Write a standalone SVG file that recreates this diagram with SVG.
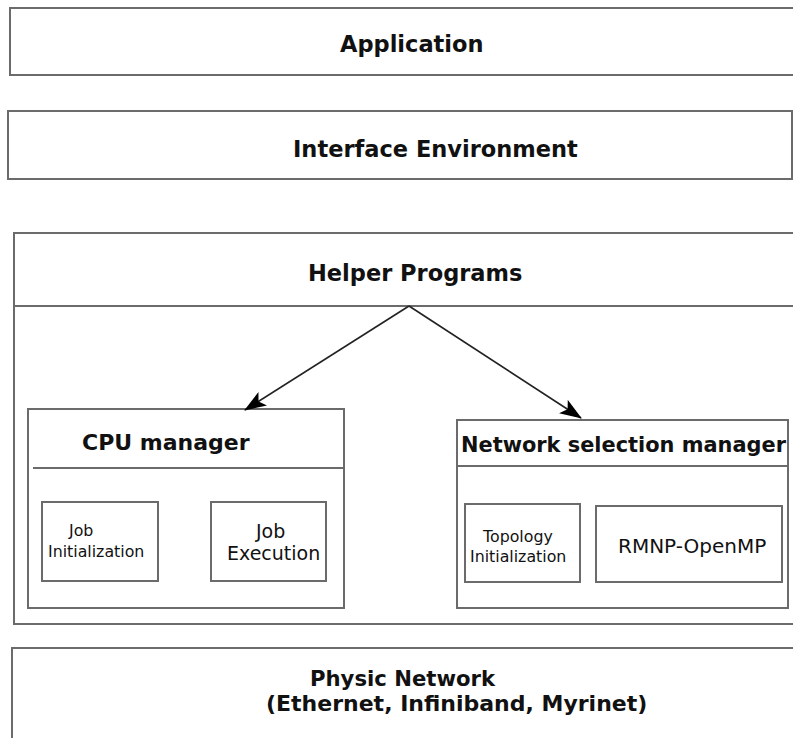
<svg xmlns="http://www.w3.org/2000/svg" width="793" height="738" viewBox="0 0 793 738">
  <style>
    .box { fill: #ffffff; stroke: #6b6b6b; stroke-width: 2; }
    .div { stroke: #6b6b6b; stroke-width: 2; fill: none; }
    .t { font-family: "DejaVu Sans", Verdana, sans-serif; fill: #111111; }
    .big { font-size: 22.5px; font-weight: bold; }
    .small { font-size: 15.8px; }
    .conn { stroke: #222222; stroke-width: 1.6; fill: none; }
  </style>
  <defs>
    <marker id="ah" viewBox="0 0 22 16" refX="21" refY="8" markerWidth="22" markerHeight="16" markerUnits="userSpaceOnUse" orient="auto">
      <path d="M0,0 L22,8 L0,16 L5,8 z" fill="#000000"/>
    </marker>
  </defs>
  <rect width="793" height="738" fill="#ffffff"/>

  <g id="application">
    <rect class="box" x="10" y="8" width="800" height="67"/>
    <text class="t big" x="340" y="52">Application</text>
  </g>

  <g id="interface-environment">
    <rect class="box" x="8" y="111" width="784" height="68"/>
    <text class="t big" x="293" y="157">Interface Environment</text>
  </g>

  <g id="helper-programs">
    <rect class="box" x="14" y="233" width="800" height="391"/>
    <line class="div" x1="14" y1="306" x2="800" y2="306"/>
    <text class="t big" x="308" y="281">Helper Programs</text>
  </g>

  <g id="cpu-manager">
    <rect class="box" x="28" y="409" width="316" height="199"/>
    <line class="div" x1="33" y1="468" x2="344" y2="468"/>
    <text class="t" x="82" y="450" font-size="22" font-weight="bold">CPU manager</text>
  </g>

  <g id="job-initialization">
    <rect class="box" x="42" y="502" width="116" height="79"/>
    <text class="t small" x="69" y="536">Job</text>
    <text class="t small" x="48" y="557">Initialization</text>
  </g>

  <g id="job-execution">
    <rect class="box" x="211" y="502" width="115" height="79"/>
    <text class="t" x="256" y="538" font-size="19">Job</text>
    <text class="t" x="227" y="560" font-size="19">Execution</text>
  </g>

  <g id="network-selection-manager">
    <rect class="box" x="457" y="420" width="331" height="188"/>
    <line class="div" x1="457" y1="466" x2="788" y2="466"/>
    <text class="t" x="461" y="452" font-size="20.9" font-weight="bold">Network selection manager</text>
  </g>

  <g id="topology-initialization">
    <rect class="box" x="465" y="504" width="115" height="78"/>
    <text class="t small" x="483" y="542">Topology</text>
    <text class="t small" x="470" y="562">Initialization</text>
  </g>

  <g id="rmnp-openmp">
    <rect class="box" x="596" y="506" width="186" height="76"/>
    <text class="t" x="618" y="553" font-size="20">RMNP-OpenMP</text>
  </g>

  <g id="physic-network">
    <rect class="box" x="12" y="648" width="800" height="120"/>
    <text class="t" x="310" y="686" font-size="21.2" font-weight="bold">Physic Network</text>
    <text class="t" x="266" y="711" font-size="22" font-weight="bold">(Ethernet, Infiniband, Myrinet)</text>
  </g>

  <g id="connectors">
    <line class="conn" x1="409" y1="306" x2="245" y2="410" marker-end="url(#ah)"/>
    <line class="conn" x1="409" y1="306" x2="581" y2="418" marker-end="url(#ah)"/>
  </g>
</svg>
